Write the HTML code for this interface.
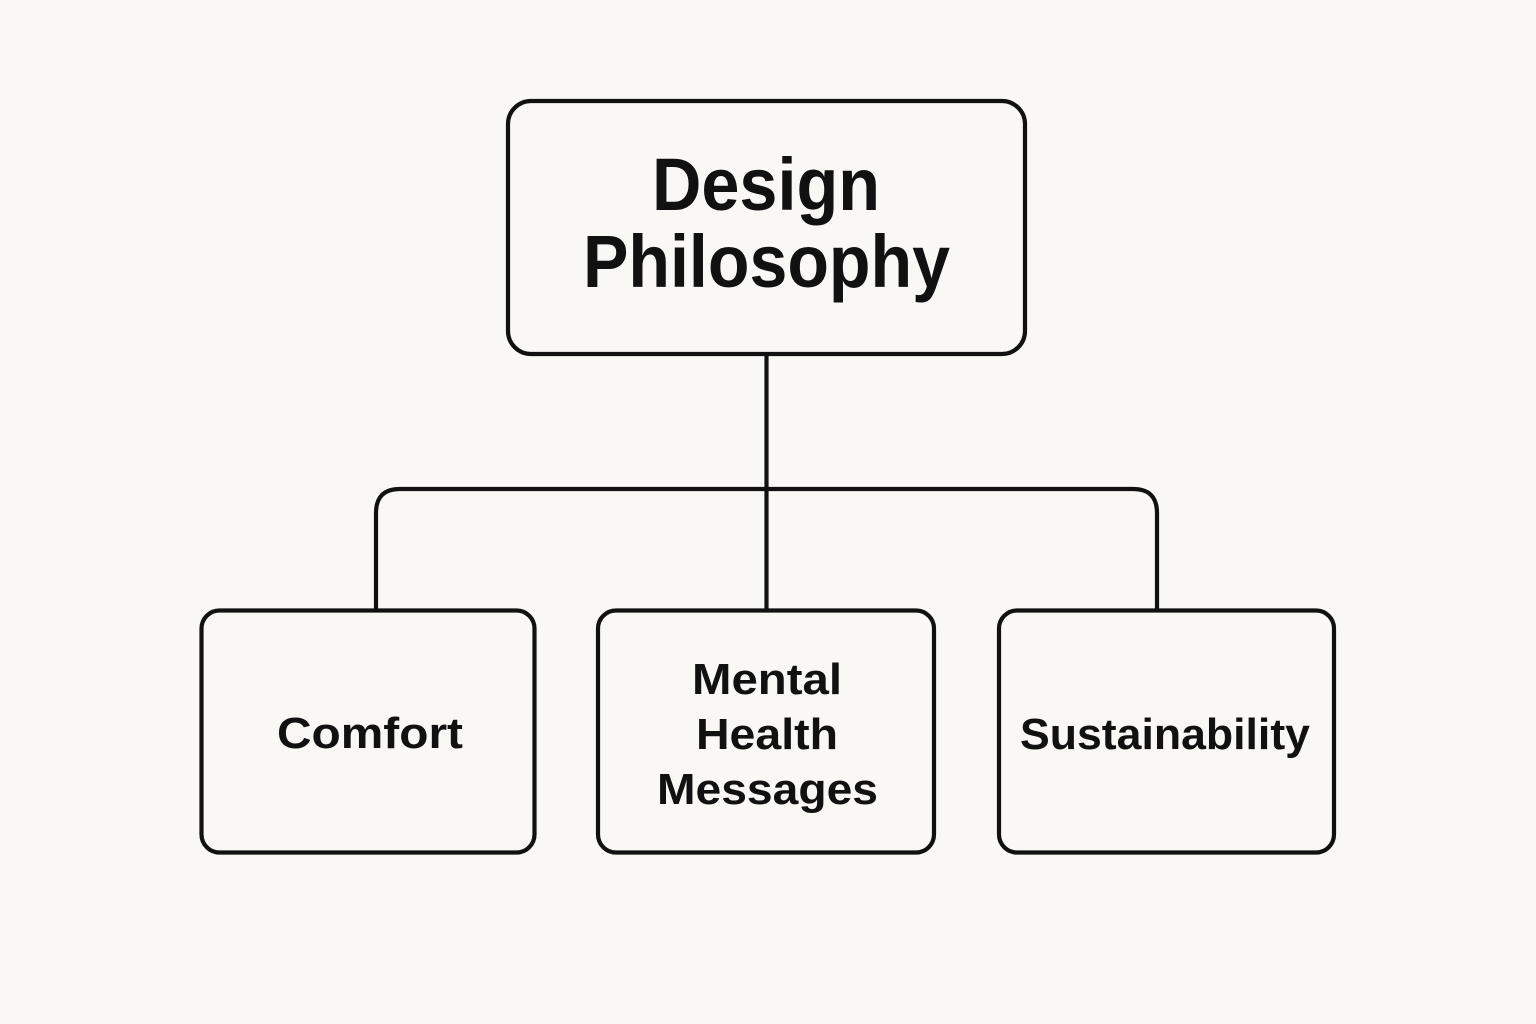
<!DOCTYPE html>
<html>
<head>
<meta charset="utf-8">
<style>
  html, body { margin: 0; padding: 0; background: #f9f8f5; }
  svg { display: block; }
  text { font-family: "Liberation Sans", Arial, sans-serif; font-weight: bold; fill: #111; }
</style>
</head>
<body>
<svg width="1536" height="1024" viewBox="0 0 1536 1024" xmlns="http://www.w3.org/2000/svg">
  <rect x="0" y="0" width="1536" height="1024" fill="#f9f8f5"/>
  <g fill="none" stroke="#111" stroke-width="4.2">
    <!-- top box -->
    <rect x="508" y="101" width="517" height="253" rx="23" ry="23"/>
    <!-- connector -->
    <path d="M766.5,355 V610"/>
    <path d="M376,609 V513 Q376,489 400,489 H1133 Q1157,489 1157,513 V609"/>
    <!-- bottom boxes -->
    <rect x="201.5" y="610.5" width="333" height="242" rx="18" ry="18"/>
    <rect x="598" y="610.5" width="336" height="242" rx="18" ry="18"/>
    <rect x="999" y="610.5" width="335" height="242" rx="18" ry="18"/>
  </g>
  <text x="766" y="210" font-size="74" text-anchor="middle" textLength="228" lengthAdjust="spacingAndGlyphs">Design</text>
  <text x="766.5" y="287" font-size="74" text-anchor="middle" textLength="367" lengthAdjust="spacingAndGlyphs">Philosophy</text>
  <text x="370" y="748" font-size="44" text-anchor="middle" textLength="186" lengthAdjust="spacingAndGlyphs">Comfort</text>
  <text x="767" y="694" font-size="44" text-anchor="middle" textLength="150" lengthAdjust="spacingAndGlyphs">Mental</text>
  <text x="767" y="749" font-size="44" text-anchor="middle" textLength="142" lengthAdjust="spacingAndGlyphs">Health</text>
  <text x="767.5" y="804" font-size="44" text-anchor="middle" textLength="221" lengthAdjust="spacingAndGlyphs">Messages</text>
  <text x="1165" y="749" font-size="44" text-anchor="middle" textLength="290" lengthAdjust="spacingAndGlyphs">Sustainability</text>
</svg>
</body>
</html>
